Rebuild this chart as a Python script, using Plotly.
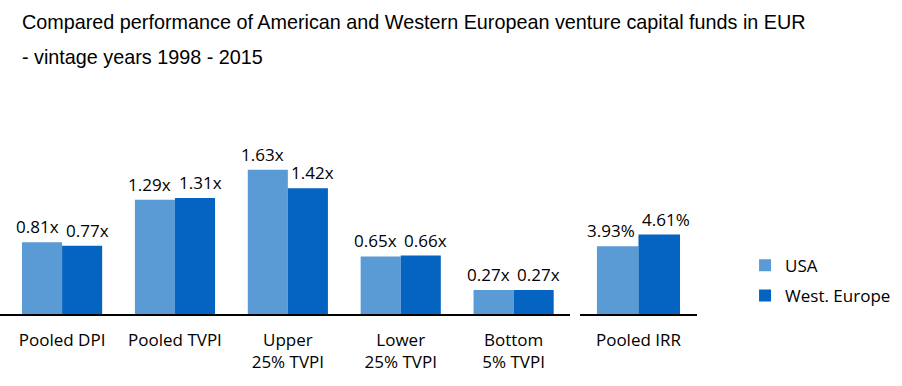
import plotly.graph_objects as go

categories = ["Pooled DPI", "Pooled TVPI", "Upper<br>25% TVPI", "Lower<br>25% TVPI", "Bottom<br>5% TVPI"]
usa_multiples = [0.81, 1.29, 1.63, 0.65, 0.27]
europe_multiples = [0.77, 1.31, 1.42, 0.66, 0.27]

irr_category = ["Pooled IRR"]
usa_irr = [3.93]
europe_irr = [4.61]

series_names = ["USA", "West. Europe"]
colors = ["#5B9BD5", "#0563C1"]

title_line1 = "Compared performance of American and Western European venture capital funds in EUR"
title_line2 = "- vintage years 1998 - 2015"

W, H = 902, 386
label_font = dict(family="Open Sans", size=17, color="black")
BARGAP = 0.29
x1_dom, x1_rng = [0, 0.632], [-0.55, 4.5]
x2_dom, x2_rng = [0.643, 0.7727], [-0.5, 0.5]
ydom = [0.18653, 0.74093]

fig = go.Figure()
for name, vals, col in zip(series_names, [usa_multiples, europe_multiples], colors):
    fig.add_trace(go.Bar(x=categories, y=vals, name=name, marker_color=col, marker_line_width=0,
                         legendgroup=name, xaxis="x", yaxis="y"))
for name, vals, col in zip(series_names, [usa_irr, europe_irr], colors):
    fig.add_trace(go.Bar(x=irr_category, y=vals, name=name, marker_color=col, marker_line_width=0,
                         legendgroup=name, showlegend=False, xaxis="x2", yaxis="y2"))


def value_labels(cats, series, fmt, xref, yref, dom, rng, nudge):
    # half-bar offset in px derived from axis scale and bargap
    px_per_cat = (dom[1] - dom[0]) * W / (rng[1] - rng[0])
    half = (1 - BARGAP) * px_per_cat / 4
    out = []
    for s, vals in enumerate(series):
        sign = -1 if s == 0 else 1
        for c, v in zip(cats, vals):
            out.append(dict(text=fmt.format(v), x=c, y=v, xref=xref, yref=yref,
                            xanchor="center", yanchor="bottom", showarrow=False,
                            xshift=sign * (half + nudge), yshift=2, font=label_font))
    return out


annotations = []
annotations += value_labels(categories, [usa_multiples, europe_multiples], "{:.2f}x",
                            "x", "y", x1_dom, x1_rng, 5)
annotations += value_labels(irr_category, [usa_irr, europe_irr], "{:.2f}%",
                            "x2", "y2", x2_dom, x2_rng, 7)
annotations += [
    dict(text=title_line1, x=20/W, y=1 - 22/H, xref="paper", yref="paper",
         xanchor="left", yanchor="middle", showarrow=False,
         font=dict(family="Liberation Sans", size=19.8, color="black")),
    dict(text=title_line2, x=20/W, y=1 - 57/H, xref="paper", yref="paper",
         xanchor="left", yanchor="middle", showarrow=False,
         font=dict(family="Liberation Sans", size=19.8, color="black")),
]

xaxis_common = dict(showline=True, linecolor="black", linewidth=1.5, showgrid=False,
                    zeroline=False, ticks="outside", ticklen=10, tickcolor="rgba(0,0,0,0)",
                    tickfont=label_font, fixedrange=True)
yaxis_common = dict(visible=False, showgrid=False, zeroline=False, fixedrange=True)

fig.update_layout(
    width=W, height=H,
    margin=dict(l=0, r=0, t=0, b=0),
    paper_bgcolor="white", plot_bgcolor="white",
    barmode="group", bargap=BARGAP, bargroupgap=0,
    xaxis=dict(domain=x1_dom, range=x1_rng, anchor="y", **xaxis_common),
    yaxis=dict(domain=ydom, range=[0, 2.418], anchor="x", **yaxis_common),
    xaxis2=dict(domain=x2_dom, range=x2_rng, anchor="y2", **xaxis_common),
    yaxis2=dict(domain=ydom, range=[0, 12.41], anchor="x2", **yaxis_common),
    showlegend=True,
    legend=dict(x=0.826, y=0.358, xanchor="left", yanchor="top",
                font=label_font, tracegroupgap=5, bgcolor="rgba(0,0,0,0)"),
    annotations=annotations,
)

fig.write_html("out.html", config={"displayModeBar": False},
               post_script="document.body.style.margin='0';")
